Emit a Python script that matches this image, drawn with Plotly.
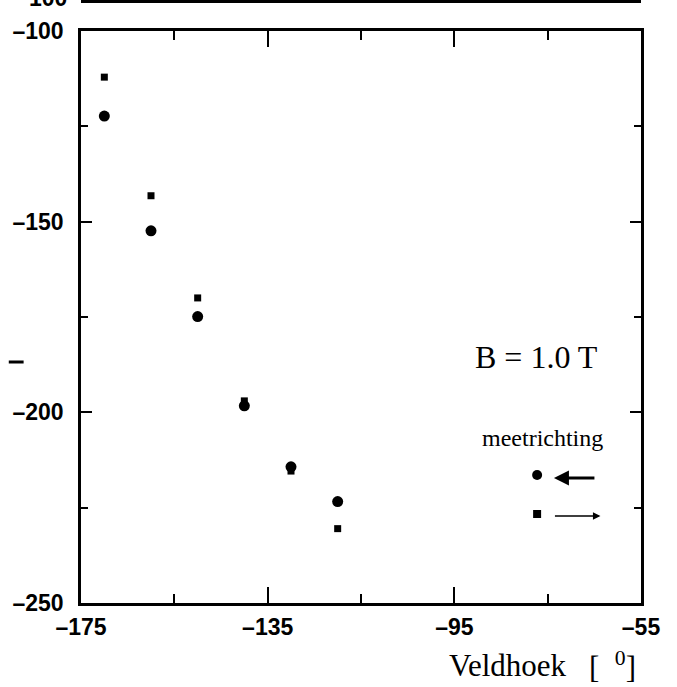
import plotly.graph_objects as go

# Veldhoek (field angle, degrees) for each measurement
angle = [-170, -160, -150, -140, -130, -120]
# measured with decreasing angle (circles, arrow to the left)
val_left = [-122.3, -152.4, -174.9, -198.3, -214.3, -223.4]
# measured with increasing angle (squares, arrow to the right)
val_right = [-112.1, -143.2, -170.0, -197.0, -215.4, -230.5]

x_major = [-175, -135, -95, -55]
x_major_text = ["\u2013175", "\u2013135", "\u201395", "\u201355"]
x_minor = [-155, -115, -75]
y_major = [-250, -200, -150, -100]
y_major_text = ["\u2013250", "\u2013200", "\u2013150", "\u2013100"]
y_minor = [-225, -175, -125]

W, H = 677, 687
L, R, T, B = 75, 641, 31, 603


def px(xp):
    return (xp - L) / (R - L)


def py(yp):
    return (B - yp) / (B - T)


tick_font = dict(family="Liberation Sans", size=23, color="black", weight="bold")
serif = "Liberation Serif"

fig = go.Figure()
fig.add_trace(go.Scatter(x=angle, y=val_left, mode="markers",
                         marker=dict(symbol="circle", size=11, color="black"),
                         showlegend=False))
fig.add_trace(go.Scatter(x=angle, y=val_right, mode="markers",
                         marker=dict(symbol="square", size=7, color="black"),
                         showlegend=False))

fig.update_layout(
    width=W, height=H, autosize=False,
    margin=dict(l=L, r=W - R, t=T, b=H - B, pad=0),
    paper_bgcolor="white", plot_bgcolor="white",
    showlegend=False,
)
fig.update_xaxes(
    range=[-175, -55], showgrid=False, zeroline=False,
    showline=True, linecolor="black", linewidth=2.5, mirror="ticks",
    ticks="inside", ticklen=16, tickwidth=2, tickcolor="black",
    tickmode="array", tickvals=x_major, ticktext=x_major_text,
    tickfont=tick_font, ticklabelstandoff=2,
    minor=dict(tickmode="array", tickvals=x_minor, ticks="inside",
               ticklen=9, tickwidth=2, tickcolor="black"),
)
fig.update_yaxes(
    range=[-250, -100], showgrid=False, zeroline=False,
    showline=True, linecolor="black", linewidth=2.5, mirror="ticks",
    ticks="inside", ticklen=11, tickwidth=2, tickcolor="black",
    tickmode="array", tickvals=y_major, ticktext=y_major_text,
    tickfont=tick_font, ticklabelstandoff=10,
    minor=dict(tickmode="array", tickvals=y_minor, ticks="inside",
               ticklen=7, tickwidth=2, tickcolor="black"),
)

shapes = [
    # bottom frame of the panel above
    dict(type="line", xref="paper", yref="paper", x0=0, x1=1,
         y0=py(1.5), y1=py(1.5), line=dict(color="black", width=3)),
    # fragment of the y-axis title
    dict(type="line", xref="paper", yref="paper", x0=px(2), x1=px(17),
         y0=py(362), y1=py(362), line=dict(color="black", width=3)),
    # legend symbols
    dict(type="circle", xref="paper", yref="paper", xsizemode="pixel",
         ysizemode="pixel", xanchor=px(536), yanchor=py(475),
         x0=-5, x1=5, y0=-5, y1=5, fillcolor="black",
         line=dict(color="black", width=0)),
    dict(type="rect", xref="paper", yref="paper", xsizemode="pixel",
         ysizemode="pixel", xanchor=px(536), yanchor=py(514),
         x0=-4, x1=4, y0=-4, y1=4, fillcolor="black",
         line=dict(color="black", width=0)),
]
fig.update_layout(shapes=shapes)

annotations = [
    dict(text="100", x=px(63), y=py(-2), xanchor="right", yanchor="middle",
         font=tick_font),
    dict(text="B = 1.0 T", x=px(535), y=py(357), xanchor="center",
         yanchor="middle", font=dict(family=serif, size=32, color="black")),
    dict(text="meetrichting", x=px(541), y=py(438), xanchor="center",
         yanchor="middle", font=dict(family=serif, size=24, color="black")),
    dict(text="Veldhoek", x=px(507), y=py(665), xanchor="center",
         yanchor="middle", font=dict(family=serif, size=31, color="black")),
    dict(text="[&nbsp;&nbsp;<sup>0</sup>]", x=px(586), y=py(665),
         xanchor="left", yanchor="middle",
         font=dict(family=serif, size=31, color="black")),
    # direction arrows
    dict(text="", x=px(553), y=py(478), ax=42, ay=0, showarrow=True,
         arrowhead=2, arrowsize=1, arrowwidth=3, arrowcolor="black"),
    dict(text="", x=px(600), y=py(516), ax=-47, ay=0, showarrow=True,
         arrowhead=2, arrowsize=1, arrowwidth=1.5, arrowcolor="black"),
]
for a in annotations:
    a.setdefault("xref", "paper")
    a.setdefault("yref", "paper")
    a.setdefault("showarrow", False)
fig.update_layout(annotations=annotations)

fig.write_html("out.html")
